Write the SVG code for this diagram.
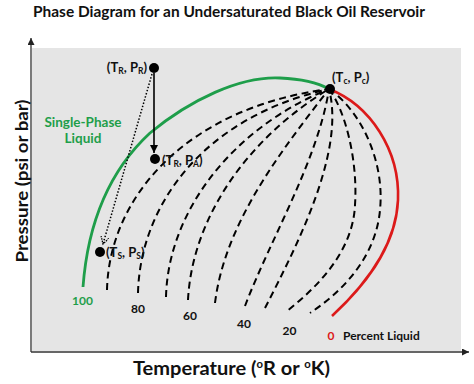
<svg xmlns="http://www.w3.org/2000/svg" width="474" height="384" viewBox="0 0 474 384">
<style>
text{font-family:Lato,"Open Sans","Liberation Sans",sans-serif;font-weight:bold}
.lbl{font-size:13px;fill:#111}
.pct{font-size:12px;fill:#111}
.dash{fill:none;stroke:#000;stroke-width:2;stroke-dasharray:7 4.5}
.axis{stroke:#333;stroke-width:1.3;fill:none}
.dot{fill:#000}
</style>
<defs>
<marker id="ax" markerUnits="userSpaceOnUse" markerWidth="8" markerHeight="8" refX="7" refY="3.5" orient="auto">
<path d="M0,0 L7,3.5 L0,7 z" fill="#222"/>
</marker>
<marker id="ah" markerUnits="userSpaceOnUse" markerWidth="9" markerHeight="9" refX="8" refY="4" orient="auto">
<path d="M0,0 L8,4 L0,8 z" fill="#000"/>
</marker>
<marker id="oh" markerUnits="userSpaceOnUse" markerWidth="10" markerHeight="10" refX="7" refY="4" orient="auto">
<path d="M0,0 L7,4 L0,8" fill="none" stroke="#000" stroke-width="1.3" stroke-dasharray="1.5 1"/>
</marker>
</defs>
<rect x="0" y="0" width="474" height="384" fill="#fff"/>
<text x="33" y="17" font-size="14.5" textLength="392" lengthAdjust="spacingAndGlyphs" fill="#111">Phase Diagram for an Undersaturated Black Oil Reservoir</text>
<rect x="32" y="48" width="429" height="303" fill="#e5e5e5"/>
<g id="axes">
<line class="axis" x1="31" y1="352" x2="31" y2="38" marker-end="url(#ax)"/>
<line class="axis" x1="31" y1="352" x2="469" y2="352" marker-end="url(#ax)"/>
</g>
<text transform="translate(28,181) rotate(-90)" text-anchor="middle" font-size="17.5" textLength="163" lengthAdjust="spacingAndGlyphs" fill="#111">Pressure (psi or bar)</text>
<text x="133" y="375" font-size="19.5" textLength="197" lengthAdjust="spacingAndGlyphs" fill="#111">Temperature (<tspan font-size="11" dy="-7">o</tspan><tspan dy="7">R or </tspan><tspan font-size="11" dy="-7">o</tspan><tspan dy="7">K)</tspan></text>
<g id="connectors">
<path class="dash" d="M107,290 C109,198 185,108 329,89"/>
<path class="dash" d="M138,293 C140,208 200,118 329,89"/>
<path class="dash" d="M166,297 C168,212 232,128 329,89"/>
<path class="dash" d="M188,300 C192,220 245,140 329,89"/>
<path class="dash" d="M215,303 C225,222 282,150 329,89"/>
<path class="dash" d="M245,306 C270,240 318,160 329,89"/>
<path class="dash" d="M265,308 C300,240 345,150 329,89"/>
<path class="dash" d="M329,89 C345,110 358,160 355,205 C353,250 320,285 287,311"/>
<path class="dash" d="M329,89 C360,110 385,160 380,210 C376,255 345,290 310,313"/>
<path id="bubble" d="M83,287 C88,220 110,170 150,133 C190,100 240,76 280,78 C305,79 320,84 329,89" fill="none" stroke="#1e9e4a" stroke-width="2.8"/>
<path id="dew" d="M329,89 C370,105 400,150 398,200 C396,250 360,290 332,316" fill="none" stroke="#dc1a1a" stroke-width="2.6"/>
<line x1="154" y1="73" x2="154" y2="153" stroke="#000" stroke-width="1.6" marker-end="url(#ah)"/>
<line x1="152" y1="74" x2="103" y2="244" stroke="#000" stroke-width="1.5" stroke-dasharray="1.5 1.8" marker-end="url(#oh)"/>
</g>
<g id="critical">
<circle class="dot" cx="330" cy="89" r="5"/>
<text class="lbl" x="332" y="82">(T<tspan font-size="8.5" dy="2">c</tspan><tspan dy="-2">, P</tspan><tspan font-size="8.5" dy="2">c</tspan><tspan dy="-2">)</tspan></text>
</g>
<g id="reservoir">
<circle class="dot" cx="154" cy="68" r="5"/>
<text class="lbl" x="147" y="72" text-anchor="end">(T<tspan font-size="8.5" dy="2">R</tspan><tspan dy="-2">, P</tspan><tspan font-size="8.5" dy="2">R</tspan><tspan dy="-2">)</tspan></text>
</g>
<g id="abandon">
<circle class="dot" cx="155" cy="159" r="5"/>
<text class="lbl" x="162" y="165">(T<tspan font-size="8.5" dy="2">R</tspan><tspan dy="-2">, P</tspan><tspan font-size="8.5" dy="2">A</tspan><tspan dy="-2">)</tspan></text>
</g>
<g id="surface">
<circle class="dot" cx="100" cy="252" r="5"/>
<text class="lbl" x="106" y="257">(T<tspan font-size="8.5" dy="2">S</tspan><tspan dy="-2">, P</tspan><tspan font-size="8.5" dy="2">S</tspan><tspan dy="-2">)</tspan></text>
</g>
<g id="single-phase">
<text x="83" y="127" text-anchor="middle" font-size="13.5" fill="#1e9e4a">Single-Phase</text>
<text x="83" y="143" text-anchor="middle" font-size="13.5" fill="#1e9e4a">Liquid</text>
</g>
<g id="percent-labels">
<text class="pct" x="82.5" y="305" text-anchor="middle" style="fill:#1e9e4a">100</text>
<text class="pct" x="138" y="313" text-anchor="middle">80</text>
<text class="pct" x="190" y="320" text-anchor="middle">60</text>
<text class="pct" x="244" y="328" text-anchor="middle">40</text>
<text class="pct" x="289.5" y="335" text-anchor="middle">20</text>
<text class="pct" x="331" y="340" text-anchor="middle" style="fill:#dc1a1a">0</text>
<text class="pct" x="343" y="340">Percent Liquid</text>
</g>
</svg>
